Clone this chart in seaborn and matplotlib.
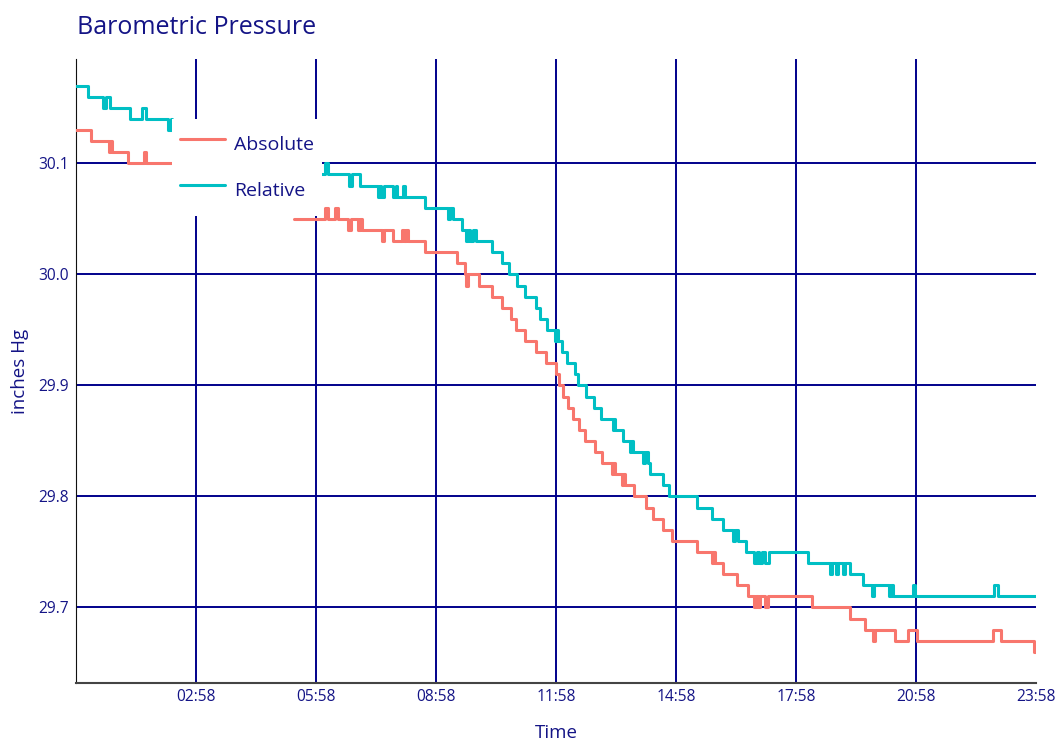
import numpy as np
import pandas as pd
import matplotlib
matplotlib.use("Agg")
import matplotlib.pyplot as plt
import seaborn as sns

# ---- data (hours since 23:58 of the previous day, pressure in inches Hg) ----
abs_time = [0.0, 0.375, 0.825, 0.85, 0.9, 1.3, 1.7, 1.75, 2.4,
            5.45, 6.225, 6.3, 6.475, 6.55, 6.8, 6.875, 7.05, 7.1, 7.15, 7.65, 7.7,
            7.925, 8.15, 8.2, 8.25, 8.3, 8.725, 9.525, 9.725, 9.75, 9.8, 10.075,
            10.4, 10.65, 10.875, 11.0, 11.225, 11.5, 11.75, 12.0, 12.075, 12.175,
            12.3, 12.425, 12.575, 12.725, 12.975, 13.15, 13.4, 13.425, 13.475,
            13.65, 13.675, 13.725, 13.95, 14.25, 14.425, 14.675, 14.9, 15.525,
            15.9, 15.925, 15.975, 16.175, 16.525, 16.8, 16.95, 17.0, 17.05, 17.1,
            17.225, 17.3, 18.4, 19.35, 19.725, 19.925, 19.975, 20.475, 20.8,
            21.025, 22.925, 23.125, 23.95, 24.0]
abs_value = [30.13, 30.12, 30.11, 30.12, 30.11, 30.10, 30.11, 30.10, 30.10,
             30.05, 30.06, 30.05, 30.06, 30.05, 30.04, 30.05, 30.04, 30.05, 30.04, 30.03, 30.04,
             30.03, 30.04, 30.03, 30.04, 30.03, 30.02, 30.01, 30.00, 29.99, 30.00, 29.99,
             29.98, 29.97, 29.96, 29.95, 29.94, 29.93, 29.92, 29.91, 29.90, 29.89,
             29.88, 29.87, 29.86, 29.85, 29.84, 29.83, 29.82, 29.83, 29.82,
             29.81, 29.82, 29.81, 29.80, 29.79, 29.78, 29.77, 29.76, 29.75,
             29.74, 29.75, 29.74, 29.73, 29.72, 29.71, 29.70, 29.71, 29.70, 29.71,
             29.70, 29.71, 29.70, 29.69, 29.68, 29.67, 29.68, 29.67, 29.68,
             29.67, 29.68, 29.67, 29.66, 29.66]

rel_time = [0.0, 0.3, 0.675, 0.75, 0.85, 1.35, 1.65, 1.75, 2.3, 2.375, 2.4,
            5.45, 6.225, 6.3, 6.825, 6.9, 7.1, 7.55, 7.6, 7.625, 7.7, 7.925, 8.0,
            8.025, 8.175, 8.225, 8.725, 9.3, 9.35, 9.425, 9.65, 9.75, 9.8, 9.85,
            9.925, 10.0, 10.4, 10.65, 10.825, 11.025, 11.225, 11.5, 11.6, 11.775,
            11.975, 12.0, 12.05, 12.15, 12.275, 12.475, 12.55, 12.75, 12.95,
            13.125, 13.425, 13.45, 13.475, 13.675, 13.85, 13.875, 13.925, 14.175,
            14.225, 14.3, 14.35, 14.675, 14.825, 15.525, 15.9, 16.175, 16.425,
            16.475, 16.55, 16.75, 16.95, 17.025, 17.075, 17.15, 17.225, 17.325,
            18.3, 18.85, 18.9, 19.0, 19.05, 19.175, 19.225, 19.35, 19.675, 19.9,
            19.95, 20.325, 20.375, 20.425, 20.925, 20.975, 22.95, 23.05, 24.0]
rel_value = [30.17, 30.16, 30.15, 30.16, 30.15, 30.14, 30.15, 30.14, 30.13, 30.14, 30.14,
             30.09, 30.10, 30.09, 30.08, 30.09, 30.08, 30.07, 30.08, 30.07, 30.08, 30.07, 30.08,
             30.07, 30.08, 30.07, 30.06, 30.05, 30.06, 30.05, 30.04, 30.03, 30.04, 30.03,
             30.04, 30.03, 30.02, 30.01, 30.00, 29.99, 29.98, 29.97, 29.96, 29.95,
             29.94, 29.95, 29.94, 29.93, 29.92, 29.91, 29.90, 29.89, 29.88,
             29.87, 29.86, 29.87, 29.86, 29.85, 29.84, 29.85, 29.84, 29.83,
             29.84, 29.83, 29.82, 29.81, 29.80, 29.79, 29.78, 29.77, 29.76,
             29.77, 29.76, 29.75, 29.74, 29.75, 29.74, 29.75, 29.74, 29.75,
             29.74, 29.73, 29.74, 29.73, 29.74, 29.73, 29.74, 29.73, 29.72, 29.71,
             29.72, 29.71, 29.72, 29.71, 29.72, 29.71, 29.72, 29.71, 29.71]

gap_end = 5.45  # readings resume after the gap
series_names = ["Absolute", "Relative"]
x_ticks = [3, 6, 9, 12, 15, 18, 21, 24]
x_tick_labels = ["02:58", "05:58", "08:58", "11:58", "14:58", "17:58", "20:58", "23:58"]
y_ticks = [29.7, 29.8, 29.9, 30.0, 30.1]

# ---- build long table ----
frames = []
for name, t, v in [("Absolute", abs_time, abs_value), ("Relative", rel_time, rel_value)]:
    d = pd.DataFrame({"time": t, "value": v})
    d["series"] = name
    d["segment"] = (d["time"] >= gap_end).astype(int)
    frames.append(d)
df = pd.concat(frames, ignore_index=True)

sns.set_theme(style="white")
plt.rcParams["font.family"] = ["Open Sans", "DejaVu Sans"]

NAVY = "#00008B"
TEXT = "#141486"

fig = plt.figure(figsize=(10.61, 7.48), dpi=100)
ax = fig.add_axes([76 / 1061, 65 / 748, 960 / 1061, 624 / 748])

sns.lineplot(data=df, x="time", y="value", hue="series", units="segment",
             estimator=None, sort=False, drawstyle="steps-post",
             palette={"Absolute": "#F8766D", "Relative": "#00BFC4"},
             hue_order=series_names, linewidth=2.2, ax=ax, zorder=3)

ax.set_xlim(0, 24)
ax.set_ylim(29.632, 30.194)
ax.set_xticks(x_ticks)
ax.set_xticklabels(x_tick_labels)
ax.set_yticks(y_ticks)
ax.set_yticklabels([f"{v:.1f}" for v in y_ticks])
ax.tick_params(axis="both", length=0, labelsize=11.2, colors=TEXT)
ax.tick_params(axis="x", pad=4)
ax.tick_params(axis="y", pad=5)

ax.grid(True, color=NAVY, linewidth=1.4)
ax.set_axisbelow(True)
ax.xaxis.get_gridlines()[-1].set_visible(False)

for s in ["top", "right"]:
    ax.spines[s].set_visible(False)
ax.spines["left"].set_color("#111111")
ax.spines["left"].set_linewidth(0.8)
ax.spines["bottom"].set_color("#444444")
ax.spines["bottom"].set_linewidth(1.5)

ax.set_xlabel("Time", fontsize=13.5, color=TEXT, labelpad=14)
ax.set_ylabel("inches Hg", fontsize=13.5, color=TEXT, labelpad=7)

fig.text(77 / 1061, 1 - 34 / 748, "Barometric Pressure", fontsize=18,
         color=TEXT, va="baseline", ha="left")

handles, labels = ax.get_legend_handles_labels()
leg = ax.legend(handles, labels, loc="upper left", bbox_to_anchor=(0.1, 0.904),
                borderaxespad=0, frameon=True, fancybox=False, framealpha=1,
                facecolor="white", edgecolor="none", fontsize=14,
                handlelength=2.3, handletextpad=0.46, borderpad=0.42,
                handleheight=2.3, labelspacing=0.65, labelcolor=TEXT)
for ln in leg.get_lines():
    ln.set_linewidth(2.2)
leg.set_zorder(5)

fig.savefig("out.png", dpi=100, facecolor="white")
